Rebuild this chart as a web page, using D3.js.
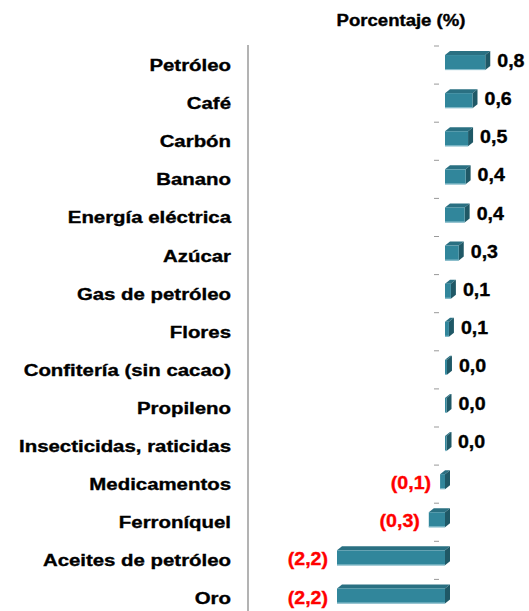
<!DOCTYPE html>
<html>
<head>
<meta charset="utf-8">
<script src="https://cdn.jsdelivr.net/npm/d3@7"></script>
<style>
  body { margin: 0; background: #fff; }
  text { font-family: "Liberation Sans", Arial, sans-serif; font-weight: bold; stroke-width: 0.35px; }
</style>
</head>
<body>
<script>
// products and their contribution (%)
let categorias = ["Petróleo", "Café", "Carbón", "Banano", "Energía eléctrica", "Azúcar",
  "Gas de petróleo", "Flores", "Confitería (sin cacao)", "Propileno ",
  "Insecticidas, raticidas", "Medicamentos", "Ferroníquel", "Aceites de petróleo", "Oro"];
let valores = [0.82, 0.56, 0.47, 0.42, 0.40, 0.28, 0.12, 0.08, 0.04, 0.03, 0.02, -0.1, -0.33, -2.2, -2.2];
let titulo = "Porcentaje (%)";

let svg = d3.select('body')
      .append('svg')
      .attr('width', 529)
      .attr('height', 611);

let x = d3.scaleLinear().domain([-2.2, 0]).range([337, 445]);
let y = d3.scaleBand().domain(categorias).range([46, 46 + 15 * 38.1]);

let fmt = v => {
  let s = Math.abs(v).toFixed(1).replace('.', ',');
  return v < 0 ? '(' + s + ')' : s;
};

let dx = 5, dy = 4;

// vertical axis line
svg.append('line')
  .attr('x1', 248).attr('x2', 248)
  .attr('y1', 45).attr('y2', 611)
  .style('stroke', '#b3b3b3')
  .style('stroke-width', 2);

// small ticks at the band edges
svg.selectAll('.tick')
  .data(categorias)
  .enter().append('line')
  .attr('x1', x(0) - 11).attr('x2', x(0) - 6)
  .attr('y1', d => y(d)).attr('y2', d => y(d))
  .style('stroke', '#999')
  .style('stroke-width', 1);

// title
svg.append('text')
  .attr('transform', 'translate(401,26) scale(1.16,1)')
  .attr('text-anchor', 'middle')
  .style('font-size', '16px')
  .style('stroke', '#000')
  .text(titulo);

// category labels
svg.selectAll('.cat')
  .data(categorias)
  .enter().append('text')
  .attr('transform', d => 'translate(231,' + (y(d) + y.bandwidth() / 2) + ') scale(1.2,1)')
  .attr('text-anchor', 'end')
  .attr('dy', '0.35em')
  .style('font-size', '17px')
  .style('fill', '#000')
  .style('stroke', '#000')
  .text(d => d.trim());

let rows = categorias.map((c, i) => ({c: c, v: valores[i]}));

let bars = svg.selectAll('.bar')
  .data(rows)
  .enter().append('g');

function geom(d) {
  let a = x(0), b = x(d.v);
  let l = Math.min(a, b), r = Math.max(a, b);
  if (r - l < 1.5) r = l + 1.5;
  let yc = y(d.c) + y.bandwidth() / 2;
  return {l: l, r: r, t: yc - 10, b: yc + 5};
}

// top face
bars.append('path')
  .attr('d', d => {
    let g = geom(d);
    return 'M' + g.l + ',' + g.t + 'L' + (g.l + dx) + ',' + (g.t - dy) +
      'L' + (g.r + dx) + ',' + (g.t - dy) + 'L' + g.r + ',' + g.t + 'Z';
  })
  .style('fill', '#2a7082');

// side face
bars.append('path')
  .attr('d', d => {
    let g = geom(d);
    return 'M' + g.r + ',' + g.t + 'L' + (g.r + dx) + ',' + (g.t - dy) +
      'L' + (g.r + dx) + ',' + (g.b - dy) + 'L' + g.r + ',' + g.b + 'Z';
  })
  .style('fill', '#1f5866');

// front face
bars.append('rect')
  .attr('x', d => geom(d).l)
  .attr('y', d => geom(d).t)
  .attr('width', d => geom(d).r - geom(d).l)
  .attr('height', 15)
  .style('fill', '#31869b');

bars.append('line')
  .attr('x1', d => geom(d).l).attr('x2', d => geom(d).r)
  .attr('y1', d => geom(d).b - 0.5).attr('y2', d => geom(d).b - 0.5)
  .style('stroke', '#8cc0cf')
  .style('stroke-width', 1);

// value labels
svg.selectAll('.val')
  .data(rows)
  .enter().append('text')
  .attr('transform', d => {
    let yc = y(d.c) + y.bandwidth() / 2;
    if (d.v >= 0) return 'translate(' + (x(d.v) + 12) + ',' + (yc - 4) + ') scale(1.12,1)';
    return 'translate(' + (x(d.v) - 9) + ',' + (yc - 1) + ') scale(1.12,1)';
  })
  .attr('text-anchor', d => d.v >= 0 ? 'start' : 'end')
  .attr('dy', '0.35em')
  .style('font-size', '17.5px')
  .style('fill', d => d.v >= 0 ? '#000' : '#ff0000')
  .style('stroke', d => d.v >= 0 ? '#000' : '#ff0000')
  .text(d => fmt(d.v));
</script>
</body>
</html>
